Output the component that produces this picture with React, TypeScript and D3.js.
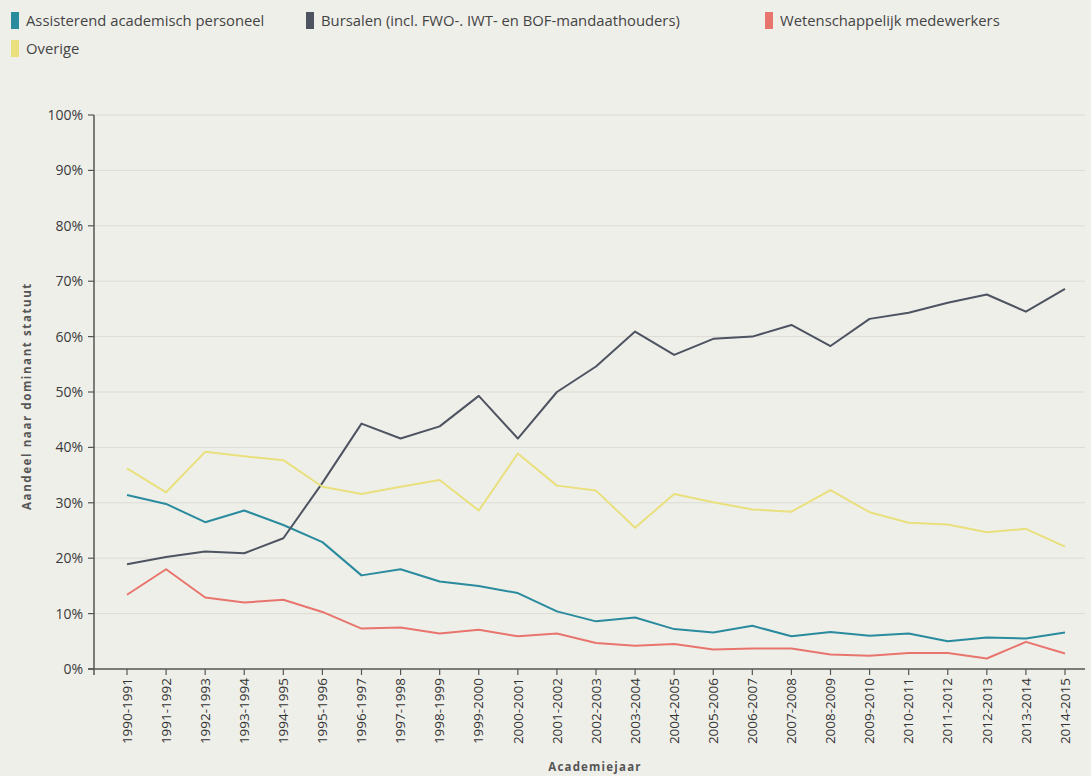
import { useEffect } from "react";
import * as d3 from "d3";

const YEARS = [
  "1990-1991", "1991-1992", "1992-1993", "1993-1994", "1994-1995", "1995-1996",
  "1996-1997", "1997-1998", "1998-1999", "1999-2000", "2000-2001", "2001-2002",
  "2002-2003", "2003-2004", "2004-2005", "2005-2006", "2006-2007", "2007-2008",
  "2008-2009", "2009-2010", "2010-2011", "2011-2012", "2012-2013", "2013-2014",
  "2014-2015",
];

const ASSISTEREND = [
  31.4, 29.8, 26.5, 28.6, 26.0, 22.9, 16.9, 18.0, 15.8, 15.0, 13.7, 10.4, 8.6,
  9.3, 7.2, 6.6, 7.8, 5.9, 6.7, 6.0, 6.4, 5.0, 5.7, 5.5, 6.6,
];
const BURSALEN = [
  18.9, 20.2, 21.2, 20.9, 23.6, 33.6, 44.3, 41.6, 43.8, 49.3, 41.6, 50.0, 54.6,
  60.9, 56.7, 59.6, 60.0, 62.1, 58.3, 63.2, 64.3, 66.1, 67.6, 64.5, 68.6,
];
const WETENSCHAPPELIJK = [
  13.4, 18.0, 12.9, 12.0, 12.5, 10.3, 7.3, 7.5, 6.4, 7.1, 5.9, 6.4, 4.7, 4.2,
  4.5, 3.5, 3.7, 3.7, 2.6, 2.4, 2.9, 2.9, 1.9, 4.9, 2.8,
];
const OVERIGE = [
  36.2, 31.9, 39.2, 38.4, 37.7, 32.9, 31.6, 32.9, 34.1, 28.6, 38.9, 33.1, 32.2,
  25.5, 31.6, 30.1, 28.8, 28.4, 32.3, 28.3, 26.4, 26.1, 24.7, 25.3, 22.1,
];

const Y_TICKS = [0, 10, 20, 30, 40, 50, 60, 70, 80, 90, 100];

const SERIES = [
  { name: "Assisterend academisch personeel", values: ASSISTEREND, color: "#2a8b9e" },
  { name: "Bursalen (incl. FWO-. IWT- en BOF-mandaathouders)", values: BURSALEN, color: "#4d5360" },
  { name: "Wetenschappelijk medewerkers", values: WETENSCHAPPELIJK, color: "#e8756d" },
  { name: "Overige", values: OVERIGE, color: "#e9e07d" },
];

// legend slot positions (x, y) per series
const LEGEND_POS: [number, number][] = [[11, 12], [306, 12], [765, 12], [11, 40]];

const FONT = "'Open Sans', 'Noto Sans', sans-serif";

export default function App() {
  useEffect(() => {
    document.body.style.margin = "0";
  }, []);

  const width = 1091;
  const height = 776;
  const axisX = 94;
  const plotRight = 1085;
  const axisY = 669;

  const x = d3.scalePoint<string>().domain(YEARS).range([127, 1065]);
  const y = d3.scaleLinear().domain([0, 100]).range([axisY, 115]);

  const line = d3.line<number>()
    .x((_, i) => x(YEARS[i]) ?? 0)
    .y((d) => y(d));

  return (
    <svg width={width} height={height} style={{ display: "block", background: "#efefea", fontFamily: FONT }}>
      <rect width={width} height={height} fill="#efefea" />

      {/* legend */}
      {SERIES.map((s, i) => (
        <g key={s.name} transform={`translate(${LEGEND_POS[i][0]},${LEGEND_POS[i][1]})`}>
          <rect width={8} height={17} fill={s.color} />
          <text x={15} y={13.5} fontSize={14.8} fill="#444">{s.name}</text>
        </g>
      ))}

      {/* grid */}
      <g stroke="#dcdcd6" strokeWidth={1}>
        {Y_TICKS.filter((t) => t > 0).map((t) => (
          <line key={t} x1={axisX} x2={plotRight} y1={y(t)} y2={y(t)} />
        ))}
      </g>

      {/* y axis */}
      <g>
        <line x1={axisX} x2={axisX} y1={y(100)} y2={axisY + 6} stroke="#555" strokeWidth={1.5} />
        {Y_TICKS.map((t) => (
          <g key={t}>
            <line x1={axisX - 6} x2={axisX} y1={y(t)} y2={y(t)} stroke="#555" strokeWidth={1.2} />
            <text x={axisX - 11} y={y(t)} dy="0.35em" textAnchor="end" fontSize={14} fill="#3a3a3a">{t}%</text>
          </g>
        ))}
        <text
          transform={`translate(31,396) rotate(-90)`}
          textAnchor="middle"
          fontSize={11.5}
          fontWeight="bold"
          letterSpacing={1.6}
          fill="#555"
        >
          Aandeel naar dominant statuut
        </text>
      </g>

      {/* x axis */}
      <g>
        <line x1={axisX - 6} x2={plotRight} y1={axisY} y2={axisY} stroke="#555" strokeWidth={1.5} />
        {YEARS.map((yr) => (
          <g key={yr} transform={`translate(${x(yr)},${axisY})`}>
            <line y1={0} y2={6} stroke="#555" strokeWidth={1.2} />
            <text transform="translate(0,9) rotate(-90)" dy="0.35em" textAnchor="end" fontSize={13.5} fill="#333">{yr}</text>
          </g>
        ))}
        <text x={595} y={771} textAnchor="middle" fontSize={11.5} fontWeight="bold" letterSpacing={1.2} fill="#555">
          Academiejaar
        </text>
      </g>

      {/* lines */}
      {SERIES.map((s) => (
        <path key={s.name} d={line(s.values) ?? ""} fill="none" stroke={s.color} strokeWidth={2} strokeLinejoin="round" />
      ))}
    </svg>
  );
}
